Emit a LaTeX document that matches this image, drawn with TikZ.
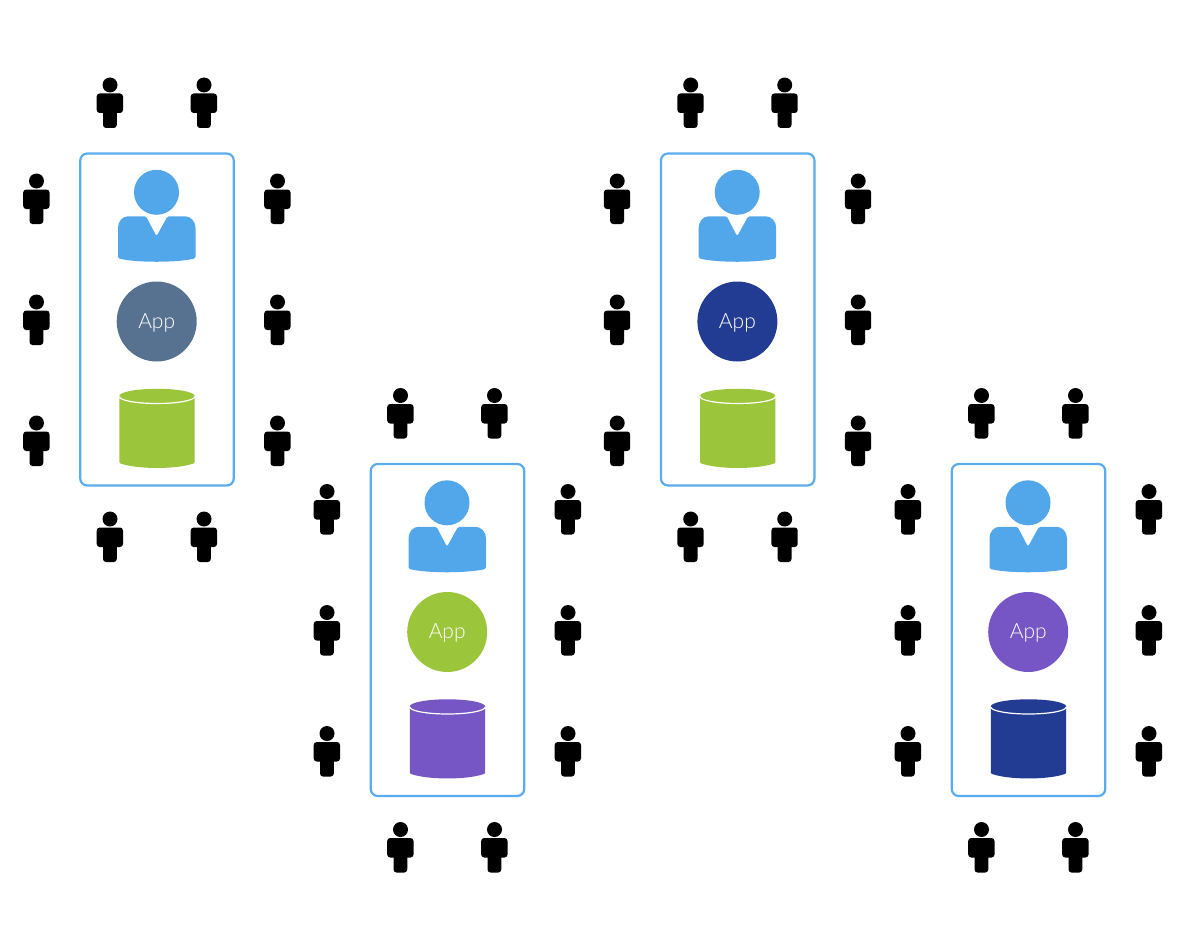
\documentclass[tikz,border=0pt]{standalone}
\usepackage{xcolor}
\usepackage{fontspec}
\usepackage{tikz}
\newfontfamily\appfont{Lato Light}
\definecolor{cl-blue}{RGB}{81,167,234}
\definecolor{cl-edge}{RGB}{90,172,238}
\definecolor{cl-slate}{RGB}{86,114,144}
\definecolor{cl-green}{RGB}{155,198,60}
\definecolor{cl-navy}{RGB}{34,60,147}
\definecolor{cl-purple}{RGB}{117,86,196}
\tikzset{
  cl@box/.style={
    draw=cl-edge, line width=2.2pt, rounded corners=7pt, fill=white,
    minimum width=153.5pt, minimum height=332pt
  },
  cl@app/.style={
    circle, minimum size=80pt, inner sep=0pt,
    text height=17pt, text depth=4pt,
    text=white, font=\appfont\fontsize{21}{24}\selectfont
  },
  cl@head/.style={circle, fill=#1, inner sep=0pt},
  pics/watcher/.style={code={
    \node[cl@head=black, minimum size=15pt] (-head) at (0,0) {};
    \fill[black, rounded corners=3pt] (-13.3,8.5) rectangle (13,28);
    \fill[black, rounded corners=3pt] (-7,20) rectangle (6.8,43);
  }},
  pics/owner/.style={code={
    \node[cl@head=cl-blue, minimum size=45pt] (-head) at (0,0) {};
    \fill[cl-blue, rounded corners=1.5pt] (-10.5,24) -- (0,44) -- (11,24) -- (27,24)
      .. controls (34,24) and (39,29) .. (39,37) -- (39,66)
      .. controls (20,70.5) and (-20,70.5) .. (-38.5,66) -- (-38.5,37)
      .. controls (-38.5,29) and (-34,24) .. (-27,24) -- cycle;
  }},
  pics/store/.style={code={
    \fill[#1, rounded corners=1pt] (-37.7,0) -- (-37.7,67) .. controls (-20,73.5) and (20,73.5) .. (37.7,67)
      -- (37.7,0) -- cycle;
    \fill[#1] (0,0) ellipse [x radius=37.7, y radius=7.2];
    \draw[white, line width=1.2pt] (-37.7,0.5) arc [start angle=180, end angle=0, x radius=37.7, y radius=7];
  }},
}

\begin{document}
\begin{tikzpicture}[x=1pt, y=-1pt]
  \useasboundingbox (0,0) rectangle (1185,947);

  \foreach \cid/\cx/\cy/\appcol/\dbcol in {one/0/0/cl-slate/cl-green,
      two/290.5/310.5/cl-green/cl-purple,
      three/580.7/0/cl-navy/cl-green,
      four/871.5/310.5/cl-purple/cl-navy} {
    \begin{scope}[shift={(\cx,\cy)}]
      \node[cl@box] (box\cid) at (157,319.5) {};
      \pic (owner\cid) at (156.5,192.3) {owner};
      \node[cl@app, fill=\appcol] (app\cid) at (156.7,321.5) {App};
      \pic (store\cid) at (157,396) {store=\dbcol};

      % around the box
      \foreach \px in {110,204} {
        \pic (top\cid\px) at (\px,85) {watcher};
        \pic (bot\cid\px) at (\px,519) {watcher};
      }
      \foreach \py in {181,302,423} {
        \pic (left\cid\py) at (36.5,\py) {watcher};
        \pic (right\cid\py) at (277.5,\py) {watcher};
      }
    \end{scope}
  }
\end{tikzpicture}
\end{document}
